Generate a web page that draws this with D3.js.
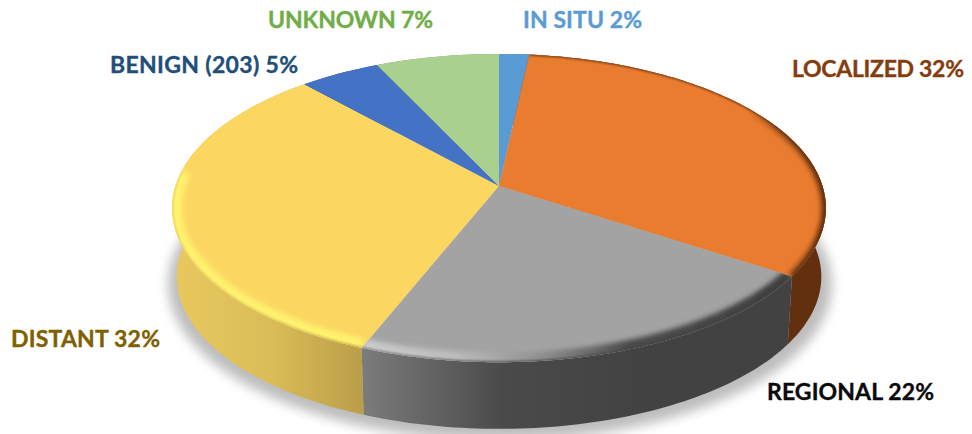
<!DOCTYPE html>
<html>
<head>
<meta charset="utf-8">
<script src="https://d3js.org/d3.v7.min.js"></script>
<style>
  html, body { margin: 0; padding: 0; background: #fff; }
  svg { display: block; }
  text { font-family: Lato, "Open Sans", sans-serif; font-weight: 700; font-size: 23px; stroke-width: 0.35px; }
</style>
</head>
<body>
<div id="chart"></div>
<script>
  // data
  const stages = ["IN SITU", "LOCALIZED", "REGIONAL", "DISTANT", "BENIGN (203)", "UNKNOWN"];
  const percentLabels = [2, 32, 22, 32, 5, 7];
  const shares = [1.7, 32.6, 21.7, 32.4, 4.6, 7];
  const sliceColors = ["#5b9bd5", "#ea7c30", "#a3a3a3", "#fbd762", "#4472c4", "#a9d08e"];
  const labelColors = ["#5b9bd5", "#843c0c", "#0a0a0a", "#7f6000", "#1f4e79", "#70ad47"];

  // where each label sits, same order as stages
  const labelX = [523, 792, 767, 11, 110, 268];
  const labelY = [28, 77, 400, 347, 73, 28];
  const labelW = [119, 172, 167, 149, 188, 165];

  const width = 972, height = 434;

  // pie lid and base, flat disc seen in perspective
  const k = 0.143;
  const lid = {cx: 499, cy: 186, rx: 323.5, ry: 151};
  const base = {cx: 499, cy: 255, rx: 319, ry: 149};

  const svg = d3.select("#chart").append("svg")
    .attr("width", width)
    .attr("height", height);
  const defs = svg.append("defs");

  defs.append("filter").attr("id", "soft").attr("x", "-20%").attr("y", "-20%").attr("width", "140%").attr("height", "140%")
    .append("feGaussianBlur").attr("stdDeviation", 6);
  defs.append("filter").attr("id", "rimBlur").attr("filterUnits", "userSpaceOnUse")
    .attr("x", 0).attr("y", 0).attr("width", width).attr("height", height)
    .append("feGaussianBlur").attr("stdDeviation", 2.4);
  defs.append("filter").attr("id", "edgeBlur").attr("filterUnits", "userSpaceOnUse")
    .attr("x", 0).attr("y", 0).attr("width", width).attr("height", height)
    .append("feGaussianBlur").attr("stdDeviation", 0.9);

  function project(disc, a, r = 1) {
    const u = Math.sin(a) * r, v = -Math.cos(a) * r;
    const s = 1 / (1 - k * v);
    return [disc.cx + disc.rx * u * s, disc.cy + disc.ry * v * s];
  }

  function rimPoints(disc, d) {
    const n = Math.max(2, Math.ceil((d.endAngle - d.startAngle) / 0.02));
    return d3.range(n + 1).map(i =>
      project(disc, d.startAngle + (d.endAngle - d.startAngle) * i / n));
  }

  const line = d3.line();
  const pie = d3.pie().sort(null).startAngle(0).endAngle(2 * Math.PI);
  const slices = pie(shares);
  const color = d3.scaleOrdinal().domain(stages).range(sliceColors);

  // gradients across the wall, by horizontal position
  const wallX = d3.scaleLinear().domain([0, 1]).range([172, 826]);
  function gradient(id, stops, x1 = 0, x2 = 1) {
    const g = defs.append("linearGradient").attr("id", id)
      .attr("gradientUnits", "userSpaceOnUse")
      .attr("x1", wallX(x1)).attr("x2", wallX(x2)).attr("y1", 0).attr("y2", 0);
    stops.forEach(s => g.append("stop").attr("offset", s[0]).attr("stop-color", s[1]).attr("stop-opacity", s[2] === undefined ? 1 : s[2]));
    return `url(#${id})`;
  }
  const wallFill = [
    "#2e5f8c",
    "#62300f",
    gradient("wallGray", [[0, "#7c7c7c"], [0.5, "#4a4a4a"], [1, "#424242"]], 0.29, 0.72),
    gradient("wallYellow", [[0, "#e8c85e"], [0.5, "#dcbc58"], [1, "#b89c48"]], 0, 0.3),
    "#2f5597",
    "#7a9a66"
  ];
  const rimStroke = [
    null,
    gradient("rimOrange", [[0, "#62300f", 0], [0.4, "#62300f", 0.7], [1, "#62300f", 1]], 0.88, 1),
    gradient("rimGray", [[0, "#cccccc"], [0.22, "#bcbcbc"], [0.42, "#8e8e8e"], [0.62, "#4a4a4a"], [1, "#3f3f3f"]], 0.29, 0.95),
    "#fff26e",
    null,
    null
  ];

  // drop shadow under the base
  svg.append("ellipse")
    .attr("cx", 500).attr("cy", 284)
    .attr("rx", 332).attr("ry", 156)
    .attr("fill", "#000").attr("opacity", 0.26)
    .attr("filter", "url(#soft)");

  // walls
  svg.append("g").selectAll("path")
    .data(slices)
    .join("path")
      .attr("d", d => line(rimPoints(lid, d).concat(rimPoints(base, d).reverse())) + "Z")
      .attr("fill", (d, i) => wallFill[i]);

  // lid
  const facePath = d => line([[lid.cx, lid.cy]].concat(rimPoints(lid, d))) + "Z";
  svg.append("g").selectAll("path")
    .data(slices)
    .join("path")
      .attr("d", facePath)
      .attr("fill", (d, i) => color(stages[i]));

  // bevel along the rim, clipped to its slice
  slices.forEach((d, i) => {
    if (!rimStroke[i]) return;
    defs.append("clipPath").attr("id", "face" + i)
      .append("path").attr("d", facePath(d));
    let pts = rimPoints(lid, d);
    // yellow bevel only runs on the lower left, orange only on the right
    if (i === 3) pts = pts.filter(p => p[1] > 170);
    const g = svg.append("g").attr("clip-path", `url(#face${i})`);
    g.append("path")
      .attr("d", line(pts))
      .attr("fill", "none")
      .attr("stroke", rimStroke[i])
      .attr("stroke-width", i === 1 ? 9 : 19)
      .attr("filter", "url(#rimBlur)");
    // soft edge where the bevel rolls over into the wall
    g.append("path")
      .attr("d", line(pts))
      .attr("fill", "none")
      .attr("stroke", wallFill[i])
      .attr("stroke-width", 2)
      .attr("filter", "url(#edgeBlur)");
  });

  // labels
  svg.append("g").selectAll("text")
    .data(stages)
    .join("text")
      .attr("x", (d, i) => labelX[i])
      .attr("y", (d, i) => labelY[i])
      .attr("textLength", (d, i) => labelW[i])
      .attr("fill", (d, i) => labelColors[i])
      .attr("stroke", (d, i) => labelColors[i])
      .text((d, i) => `${d} ${percentLabels[i]}%`);
</script>
</body>
</html>
